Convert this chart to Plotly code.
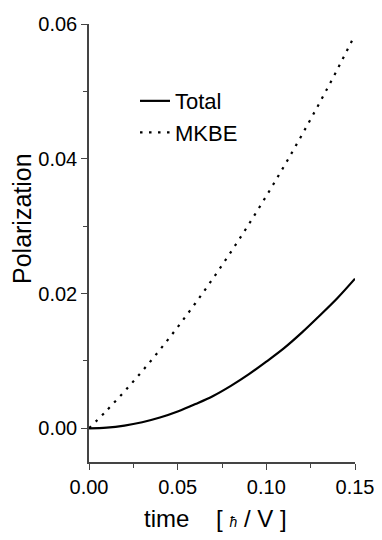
import plotly.graph_objects as go

# time in units of hbar / V
time = [0.00, 0.01, 0.02, 0.03, 0.04, 0.05, 0.06, 0.07, 0.08,
        0.09, 0.10, 0.11, 0.12, 0.13, 0.14, 0.15]

total = [0.0, 0.0001, 0.0004, 0.0009, 0.0016, 0.0025, 0.0036, 0.0048,
         0.0063, 0.0080, 0.0099, 0.0119, 0.0142, 0.0167, 0.0193, 0.0222]
mkbe = [0.0, 0.00265, 0.00548, 0.00848, 0.01166, 0.01502, 0.01856, 0.02227,
        0.02616, 0.03023, 0.03448, 0.0389, 0.04351, 0.04829, 0.05324, 0.0584]

x_ticks = [0.00, 0.05, 0.10, 0.15]
y_ticks = [0.00, 0.02, 0.04, 0.06]

font = "Liberation Sans, Arial, sans-serif"
nb = "\u00a0"
zw = "\u200b"  # keeps the padding spaces from being trimmed

fig = go.Figure()

fig.add_trace(
    go.Scatter(
        x=time,
        y=total,
        mode="lines",
        name="Total",
        line=dict(color="black", width=2.2, shape="spline"),
    )
)
fig.add_trace(
    go.Scatter(
        x=time,
        y=mkbe,
        mode="lines",
        name="MKBE",
        line=dict(color="black", width=2.2, dash="2.5px,6.5px", shape="spline"),
    )
)

axis_style = dict(
    showgrid=False,
    zeroline=False,
    showline=True,
    linecolor="#444",
    linewidth=1.5,
    ticks="outside",
    ticklen=6,
    tickwidth=1.3,
    tickcolor="#444",
    tickfont=dict(size=20, color="black", family=font),
    minor=dict(ticks="outside", ticklen=4, tickwidth=1.3, tickcolor="#444"),
)

# the titles sit a little off-centre in the original, padded with nbsp
x_title = ("time" + nb * 4 + "[" + nb + "<i><span style='font-size:14px'>ħ</span></i>"
           + nb + "/" + nb + "V" + nb + "]" + nb * 2 + zw)
y_title = zw + nb * 7 + "Polarization"

# page body adds an 8px margin, so the figure is 8px smaller than the window
fig.update_layout(
    width=374,
    height=532,
    margin=dict(l=81, r=27, t=16, b=78, autoexpand=False),
    plot_bgcolor="white",
    paper_bgcolor="white",
    font=dict(family=font, color="black"),
    showlegend=True,
    legend=dict(
        x=0.173,
        y=0.872,
        xanchor="left",
        yanchor="top",
        bgcolor="rgba(0,0,0,0)",
        font=dict(size=22, family=font),
        tracegroupgap=0,
    ),
    xaxis=dict(
        range=[0, 0.15],
        tickvals=x_ticks,
        tickformat=".2f",
        title=dict(text=x_title, font=dict(size=24, family=font), standoff=13),
        **axis_style,
    ),
    yaxis=dict(
        range=[-0.005, 0.06],
        tickvals=y_ticks,
        tickformat=".2f",
        title=dict(text=y_title, font=dict(size=25, family=font), standoff=8),
        **axis_style,
    ),
)
fig.update_xaxes(minor=dict(tickvals=[0.025, 0.075, 0.125]))
fig.update_yaxes(minor=dict(tickvals=[0.01, 0.03, 0.05]))

fig.write_html("out.html")
